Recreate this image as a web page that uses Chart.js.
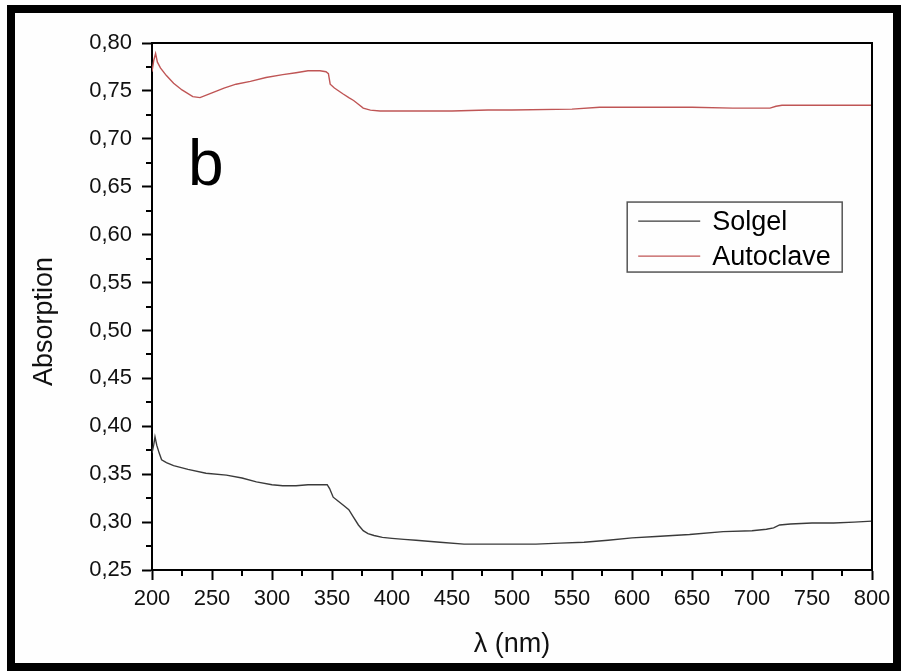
<!DOCTYPE html>
<html>
<head>
<meta charset="utf-8">
<script src="https://cdn.jsdelivr.net/npm/chart.js@4.4.1/dist/chart.umd.min.js"></script>
<style>
  html, body { margin: 0; padding: 0; background: #f4f4f4; }
  #wrap { position: relative; width: 901px; height: 671px; overflow: hidden; }
  #c { position: absolute; left: 0; top: 0; }
  #frame { position: absolute; left: 7px; top: 5px; width: 894px; height: 666px; box-sizing: border-box; border: 8px solid #000; pointer-events: none; }
</style>
</head>
<body>
<div id="wrap">
  <canvas id="c" width="901" height="671"></canvas>
  <div id="frame"></div>
</div>
<script>
// ---- data ----
const seriesNames = ['Solgel', 'Autoclave'];
const xTickValues = [200, 250, 300, 350, 400, 450, 500, 550, 600, 650, 700, 750, 800];
const yTickValues = [0.25, 0.30, 0.35, 0.40, 0.45, 0.50, 0.55, 0.60, 0.65, 0.70, 0.75, 0.80];

const solgelWavelength = [200, 201.5, 202.5, 204, 206, 208, 212, 218, 230, 245, 262, 275, 287, 300, 309, 320, 330, 340, 346, 348, 351, 355, 360, 364, 368, 372, 376, 380, 385, 392, 400, 410, 420, 440, 460, 480, 500, 520, 540, 560, 580, 600, 620, 648, 676, 700, 712, 718, 723, 732, 750, 768, 785, 800];
const solgelAbsorption = [0.372, 0.381, 0.389, 0.380, 0.372, 0.365, 0.362, 0.359, 0.355, 0.351, 0.349, 0.346, 0.342, 0.339, 0.338, 0.338, 0.339, 0.339, 0.339, 0.335, 0.326, 0.322, 0.317, 0.313, 0.305, 0.297, 0.291, 0.288, 0.286, 0.284, 0.283, 0.282, 0.281, 0.279, 0.277, 0.277, 0.277, 0.277, 0.278, 0.279, 0.281, 0.2835, 0.285, 0.287, 0.290, 0.291, 0.2925, 0.294, 0.297, 0.298, 0.299, 0.299, 0.300, 0.301];

const autoclaveWavelength = [200, 201.5, 203, 204.5, 207, 212, 218, 225, 234, 240, 250, 260, 270, 282, 295, 309, 320, 330, 340, 345, 347, 348.5, 352, 359, 364, 368, 372, 376, 382, 390, 404, 420, 450, 480, 500, 550, 573, 600, 650, 684, 700, 715, 720, 725, 760, 800];
const autoclaveAbsorption = [0.770, 0.782, 0.789, 0.780, 0.774, 0.766, 0.758, 0.751, 0.744, 0.743, 0.748, 0.753, 0.757, 0.760, 0.764, 0.767, 0.769, 0.771, 0.771, 0.770, 0.768, 0.757, 0.753, 0.747, 0.743, 0.740, 0.736, 0.732, 0.730, 0.729, 0.729, 0.729, 0.729, 0.730, 0.730, 0.731, 0.733, 0.733, 0.733, 0.732, 0.732, 0.732, 0.734, 0.735, 0.735, 0.735];

const FONT = "'Liberation Sans', Arial, Helvetica, sans-serif";
const colors = ['#3a3a3a', '#bf5555'];

function toPoints(xs, ys) { return xs.map((x, i) => ({ x: x, y: ys[i] })); }

// top/right frame of plot area, minor ticks, panel letter, legend
const framePlugin = {
  id: 'framePlugin',
  afterDraw(chart) {
    const { ctx, chartArea: a, scales } = chart;
    ctx.save();
    ctx.strokeStyle = '#000';
    ctx.lineWidth = 2;
    ctx.beginPath();
    ctx.moveTo(a.left, a.top);
    ctx.lineTo(a.right, a.top);
    ctx.lineTo(a.right, a.bottom);
    ctx.stroke();
    // minor ticks
    ctx.beginPath();
    for (let i = 0; i < xTickValues.length - 1; i++) {
      const v = (xTickValues[i] + xTickValues[i + 1]) / 2;
      const px = Math.round(scales.x.getPixelForValue(v));
      ctx.moveTo(px, a.bottom);
      ctx.lineTo(px, a.bottom + 6);
    }
    for (let i = 0; i < yTickValues.length - 1; i++) {
      const v = (yTickValues[i] + yTickValues[i + 1]) / 2;
      const py = Math.round(scales.y.getPixelForValue(v));
      ctx.moveTo(a.left, py);
      ctx.lineTo(a.left - 6, py);
    }
    ctx.stroke();
    // panel letter
    ctx.fillStyle = '#000';
    ctx.font = '64px ' + FONT;
    ctx.textBaseline = 'alphabetic';
    ctx.textAlign = 'left';
    ctx.fillText('b', scales.x.getPixelForValue(230), scales.y.getPixelForValue(0.652));
    // legend
    const lx = scales.x.getPixelForValue(596), ly = scales.y.getPixelForValue(0.634);
    const lw = 215, lh = 70;
    ctx.strokeStyle = '#555';
    ctx.lineWidth = 1.5;
    ctx.strokeRect(lx, ly, lw, lh);
    ctx.font = '27px ' + FONT;
    ctx.textBaseline = 'middle';
    chart.data.datasets.forEach((ds, i) => {
      const y = ly + 19 + i * 35;
      ctx.strokeStyle = ds.borderColor;
      ctx.lineWidth = 1.3;
      ctx.beginPath();
      ctx.moveTo(lx + 11, y);
      ctx.lineTo(lx + 73, y);
      ctx.stroke();
      ctx.fillStyle = '#000';
      ctx.fillText(ds.label, lx + 85, y + 1);
    });
    ctx.restore();
  }
};

const bgPlugin = {
  id: 'bg',
  beforeDraw(chart) {
    const ctx = chart.ctx;
    ctx.save();
    ctx.fillStyle = '#fefefe';
    ctx.fillRect(0, 0, chart.width, chart.height);
    ctx.restore();
  }
};

new Chart(document.getElementById('c'), {
  type: 'line',
  data: {
    datasets: [
      { label: seriesNames[0], data: toPoints(solgelWavelength, solgelAbsorption), borderColor: colors[0], borderWidth: 1.4, pointRadius: 0, tension: 0, fill: false },
      { label: seriesNames[1], data: toPoints(autoclaveWavelength, autoclaveAbsorption), borderColor: colors[1], borderWidth: 1.4, pointRadius: 0, tension: 0, fill: false }
    ]
  },
  plugins: [bgPlugin, framePlugin],
  options: {
    responsive: false,
    animation: false,
    devicePixelRatio: 1,
    layout: { padding: { left: 20, right: 29, top: 43, bottom: 0 } },
    plugins: { legend: { display: false }, tooltip: { enabled: false } },
    scales: {
      x: {
        type: 'linear',
        min: 200, max: 800,
        afterBuildTicks(scale) { scale.ticks = xTickValues.map(v => ({ value: v })); },
        afterFit(scale) { scale.height = 101; },
        border: { display: true, color: '#000', width: 2 },
        grid: { drawOnChartArea: false, drawTicks: true, tickLength: 10, tickColor: '#000', tickWidth: 2 },
        ticks: { autoSkip: false, maxRotation: 0, color: '#111', padding: 6, font: { family: FONT, size: 22 } },
        title: { display: true, text: 'λ (nm)', color: '#111', font: { family: FONT, size: 27 }, padding: { top: 0, bottom: 10 } }
      },
      y: {
        type: 'linear',
        min: 0.25, max: 0.80,
        afterBuildTicks(scale) { scale.ticks = yTickValues.map(v => ({ value: v })); },
        afterFit(scale) { scale.width = 132; },
        border: { display: true, color: '#000', width: 2 },
        grid: { drawOnChartArea: false, drawTicks: true, tickLength: 10, tickColor: '#000', tickWidth: 2 },
        ticks: { autoSkip: false, color: '#111', padding: 10, font: { family: FONT, size: 22 },
                 callback: v => v.toFixed(2).replace('.', ',') },
        title: { display: true, text: 'Absorption    ', color: '#111', font: { family: FONT, size: 27 }, padding: { top: 8, bottom: 0 } }
      }
    }
  }
});
</script>
</body>
</html>
